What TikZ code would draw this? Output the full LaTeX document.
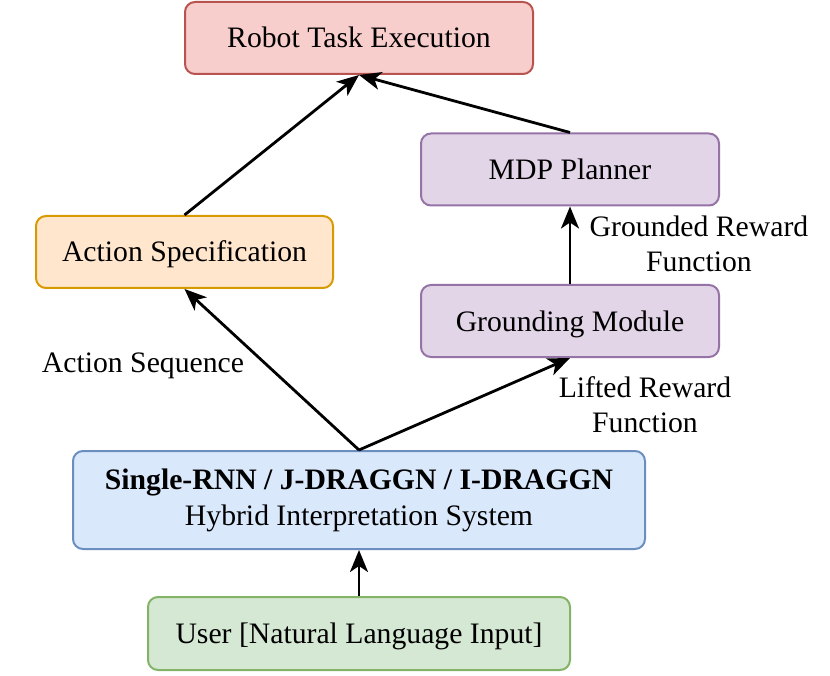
\documentclass[tikz,border=0pt]{standalone}
\usepackage{fontspec}
\setmainfont{Liberation Serif}
\usetikzlibrary{arrows.meta}
\definecolor{rtred}{HTML}{F8CECC}
\definecolor{rtredline}{HTML}{B85450}
\definecolor{rtpurple}{HTML}{E1D5E7}
\definecolor{rtpurpleline}{HTML}{9673A6}
\definecolor{rtorange}{HTML}{FFE6CC}
\definecolor{rtorangeline}{HTML}{D79B00}
\definecolor{rtblue}{HTML}{DAE8FC}
\definecolor{rtblueline}{HTML}{6C8EBF}
\definecolor{rtgreen}{HTML}{D5E8D4}
\definecolor{rtgreenline}{HTML}{82B366}

\begin{document}
\begin{tikzpicture}[
    x=1pt, y=-1pt,
    font=\fontsize{29.7}{36}\selectfont,
    box/.style={rounded corners=10pt, line width=2pt, inner sep=0pt,
                align=center, minimum height=72pt, text height=24pt, text depth=4pt},
    flow/.style={line width=2.8pt, -{Stealth[length=22pt,width=18pt,inset=6pt]}},
    tag/.style={align=center, inner sep=0pt}]

  \useasboundingbox (0,0) rectangle (830,676);

  % boxes
  \node[box, fill=rtred, draw=rtredline, minimum width=348pt] (robot) at (359,38)
       {Robot Task Execution};
  \node[box, fill=rtpurple, draw=rtpurpleline, minimum width=298pt] (mdp) at (570,169.5)
       {MDP Planner};
  \node[box, fill=rtorange, draw=rtorangeline, minimum width=297pt] (action) at (184.5,252)
       {Action Specification};
  \node[box, fill=rtpurple, draw=rtpurpleline, minimum width=298pt] (ground) at (570,321)
       {Grounding Module};
  \node[box, fill=rtblue, draw=rtblueline, minimum width=572pt, minimum height=98pt,
        text height=, text depth=] (hybrid) at (359,500)
       {\textbf{Single-RNN / J-DRAGGN / I-DRAGGN}\\[0pt] Hybrid Interpretation System};
  \node[box, fill=rtgreen, draw=rtgreenline, minimum width=422pt, minimum height=73pt] (user) at (359,633.5)
       {User [Natural Language Input]};

  % connectors
  \draw[flow] (user.north) -- (hybrid.south);
  \draw[flow] (hybrid.north) -- (action.south);
  \draw[flow] (hybrid.north) -- (ground.south);
  \draw[flow] (ground.north) -- (mdp.south);
  \draw[flow] (action.north) -- (robot.south);
  \draw[flow] (mdp.north) -- (robot.south);

  % edge labels
  \node[tag] (seqlabel) at (143,366) {Action Sequence};
  \node[tag, font=\fontsize{29.7}{35}\selectfont] (liftlabel) at (645,405) {Lifted Reward\\Function};
  \node[tag, font=\fontsize{29.7}{35}\selectfont] (groundlabel) at (699,243.5) {Grounded Reward\\Function};
\end{tikzpicture}
\end{document}
